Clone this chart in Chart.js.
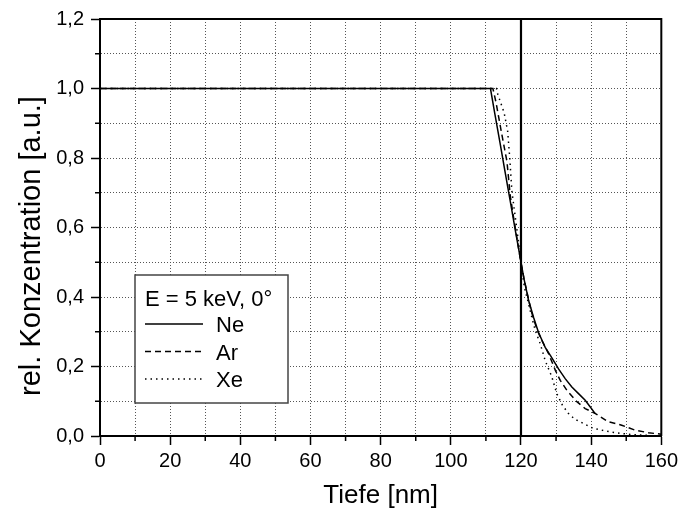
<!DOCTYPE html>
<html>
<head>
<meta charset="utf-8">
<script src="https://cdn.jsdelivr.net/npm/chart.js@4.4.0/dist/chart.umd.min.js"></script>
<style>
  html, body { margin: 0; padding: 0; background: #fff; }
</style>
</head>
<body>
<canvas id="profileChart" width="682" height="513"></canvas>
<script>
// =========================
// Data
// =========================
const depthNe = [0, 111.3, 112.5, 114, 115.5, 117, 118.5, 119.8, 120.8, 122.2, 123.6, 125, 126.9, 128.5, 130.7, 132.6, 134.5, 136.4, 138.3, 139.7, 141.1];
const concNe = [1, 1, 0.93, 0.845, 0.758, 0.672, 0.585, 0.512, 0.455, 0.389, 0.341, 0.298, 0.255, 0.23, 0.193, 0.165, 0.141, 0.122, 0.103, 0.084, 0.065];

const depthAr = [0, 112, 112.9, 114.5, 116, 116.9, 117.6, 119.3, 120.1, 121, 122.9, 124.5, 126, 127.9, 129.8, 131.2, 133.1, 136, 138.3, 141.1, 144.9, 148.7, 152.5, 156.3, 160];
const concAr = [1, 1, 0.959, 0.87, 0.79, 0.695, 0.647, 0.541, 0.493, 0.446, 0.36, 0.308, 0.274, 0.236, 0.189, 0.16, 0.131, 0.098, 0.079, 0.065, 0.041, 0.031, 0.017, 0.0095, 0.005];

const depthXe = [0, 113, 113.4, 115.2, 116.2, 116.8, 117.4, 118.4, 119.4, 120.3, 121, 122.2, 123.1, 124.1, 125.5, 126.9, 128.8, 130.2, 131.8, 133.5, 135.4, 137.8, 140.6, 143, 145.4, 148.2, 150.6, 153.5, 157];
const concXe = [1, 1, 0.983, 0.93, 0.877, 0.8, 0.705, 0.628, 0.55, 0.474, 0.427, 0.379, 0.341, 0.303, 0.265, 0.217, 0.17, 0.122, 0.089, 0.065, 0.048, 0.036, 0.022, 0.017, 0.012, 0.008, 0.005, 0.003, 0.002];

// solid marker line at 120 nm
const markerDepth = [120, 120];
const markerConc = [0, 1.2];

const legendTitle = "E = 5 keV, 0°";
const seriesNames = ["Ne", "Ar", "Xe"];
const xTitle = "Tiefe [nm]";
const yTitle = "rel. Konzentration [a.u.]";

const FONT = "'Liberation Sans', Arial, sans-serif";

function toPoints(xs, ys) {
  return xs.map((x, i) => ({ x: x, y: ys[i] }));
}

function isMajorX(v) { return Math.round(v) % 20 === 0; }
function isMajorY(v) { return Math.round(v * 10) % 2 === 0; }

// =========================
// Frame, minor ticks, titles and legend
// =========================
const framePlugin = {
  id: "frame",
  afterDatasetsDraw(chart) {
    const { ctx, chartArea: a, scales } = chart;
    ctx.save();
    ctx.strokeStyle = "#000";
    ctx.lineWidth = 2;
    ctx.beginPath();
    ctx.moveTo(a.left, a.top);
    ctx.lineTo(a.right, a.top);
    ctx.lineTo(a.right, a.bottom);
    ctx.stroke();

    // short minor ticks
    ctx.lineWidth = 1.5;
    scales.x.ticks.forEach((t) => {
      if (isMajorX(t.value)) return;
      const px = scales.x.getPixelForValue(t.value);
      ctx.beginPath();
      ctx.moveTo(px, a.bottom);
      ctx.lineTo(px, a.bottom + 5);
      ctx.stroke();
    });
    scales.y.ticks.forEach((t) => {
      if (isMajorY(t.value)) return;
      const py = scales.y.getPixelForValue(t.value);
      ctx.beginPath();
      ctx.moveTo(a.left, py);
      ctx.lineTo(a.left - 5, py);
      ctx.stroke();
    });
    ctx.restore();
  },
  afterDraw(chart) {
    const { ctx, chartArea: a } = chart;
    ctx.save();
    ctx.fillStyle = "#000";

    // axis titles
    ctx.font = "26px " + FONT;
    ctx.textAlign = "center";
    ctx.textBaseline = "alphabetic";
    ctx.fillText(xTitle, (a.left + a.right) / 2, 503);

    ctx.save();
    ctx.translate(40, 246);
    ctx.rotate(-Math.PI / 2);
    ctx.font = "29px " + FONT;
    ctx.fillText(yTitle, 0, 0);
    ctx.restore();

    // legend box
    const lx = a.left + 35, ly = a.top + 256, lw = 153, lh = 128;
    ctx.fillStyle = "#fff";
    ctx.fillRect(lx, ly, lw, lh);
    ctx.strokeStyle = "#444";
    ctx.lineWidth = 1.5;
    ctx.strokeRect(lx, ly, lw, lh);

    ctx.fillStyle = "#000";
    ctx.font = "22px " + FONT;
    ctx.textAlign = "left";
    ctx.fillText(legendTitle, lx + 10, ly + 31);

    const dashes = [[], [6, 4], [1.5, 4]];
    chart.data.datasets.slice(0, 3).forEach((ds, i) => {
      const yy = ly + 49 + i * 27.5;
      ctx.save();
      ctx.strokeStyle = "#000";
      ctx.lineWidth = 1.5;
      ctx.setLineDash(dashes[i]);
      ctx.beginPath();
      ctx.moveTo(lx + 10, yy);
      ctx.lineTo(lx + 68, yy);
      ctx.stroke();
      ctx.restore();
      ctx.fillText(seriesNames[i], lx + 81, yy + 8);
    });
    ctx.restore();
  },
};

// =========================
// Chart
// =========================
function renderProfileChart() {
  const ctx = document.getElementById("profileChart").getContext("2d");

  const lineDs = (label, pts, dash) => ({
    label: label,
    data: pts,
    showLine: true,
    borderColor: "#000",
    borderWidth: 1.5,
    borderDash: dash,
    pointRadius: 0,
    fill: false,
    tension: 0,
  });

  new Chart(ctx, {
    type: "scatter",
    data: {
      datasets: [
        lineDs("Ne", toPoints(depthNe, concNe), []),
        lineDs("Ar", toPoints(depthAr, concAr), [6, 4]),
        lineDs("Xe", toPoints(depthXe, concXe), [1.5, 4]),
        {
          label: "120 nm",
          data: toPoints(markerDepth, markerConc),
          showLine: true,
          borderColor: "#000",
          borderWidth: 2.2,
          pointRadius: 0,
        },
      ],
    },
    options: {
      responsive: false,
      animation: false,
      layout: { padding: { top: 18, right: 18, left: 0, bottom: 0 } },
      plugins: {
        legend: { display: false },
        tooltip: { enabled: false },
      },
      scales: {
        x: {
          type: "linear",
          min: 0,
          max: 160,
          afterFit(scale) { scale.height = 77; },
          ticks: {
            stepSize: 10,
            autoSkip: false,
            maxRotation: 0,
            padding: 4,
            color: "#000",
            font: { family: FONT, size: 20 },
            callback: (v) => (isMajorX(v) ? String(v) : ""),
          },
          grid: {
            color: "#555",
            lineWidth: 1,
            tickLength: 9,
            tickColor: (c) => (c.tick && isMajorX(c.tick.value) ? "#000" : "rgba(0,0,0,0)"),
            tickWidth: 1.5,
          },
          border: { display: true, color: "#000", width: 2, dash: [1, 2] },
        },
        y: {
          min: 0,
          max: 1.2,
          afterFit(scale) { scale.width = 100; },
          ticks: {
            stepSize: 0.1,
            autoSkip: false,
            padding: 7,
            color: "#000",
            font: { family: FONT, size: 20 },
            callback: (v) => (isMajorY(v) ? v.toFixed(1).replace(".", ",") : ""),
          },
          grid: {
            color: "#555",
            lineWidth: 1,
            tickLength: 9,
            tickColor: (c) => (c.tick && isMajorY(c.tick.value) ? "#000" : "rgba(0,0,0,0)"),
            tickWidth: 1.5,
          },
          border: { display: true, color: "#000", width: 2, dash: [1, 2] },
        },
      },
    },
    plugins: [framePlugin],
  });
}

renderProfileChart();
</script>
</body>
</html>
